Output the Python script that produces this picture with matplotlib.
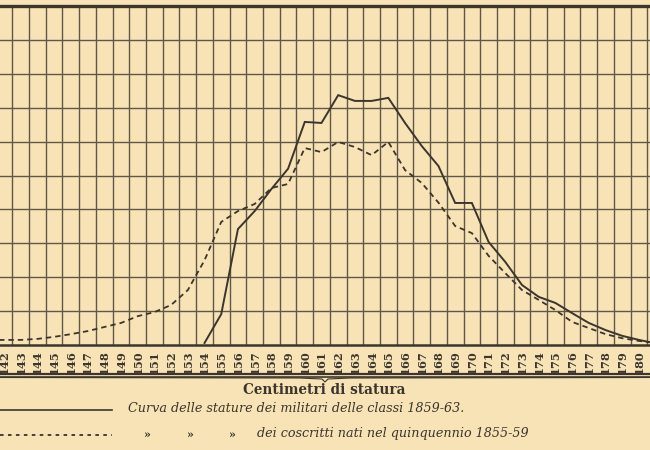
import numpy as np
import matplotlib
matplotlib.use("Agg")
import matplotlib.pyplot as plt
from matplotlib.lines import Line2D

# ---- data (units = grid rows) ----
# 141 and 181 are the edge points of the curves, partly cut off by the frame
heights = list(range(141, 182))
militari = [np.nan] * 13 + [
    0.06, 0.91, 3.42, 3.95, 4.60, 5.20, 6.58, 6.55, 7.37, 7.20, 7.20, 7.29,
    6.55, 5.87, 5.28, 4.19, 4.19, 3.04, 2.45, 1.77, 1.42, 1.24, 0.94, 0.65,
    0.44, 0.27, 0.15, 0.05]
coscritti = [
    0.14, 0.15, 0.15, 0.18, 0.24, 0.32, 0.41, 0.53, 0.65, 0.85, 0.97, 1.18,
    1.62, 2.50, 3.63, 3.95, 4.16, 4.63, 4.75, 5.81, 5.69, 5.99, 5.84, 5.60,
    5.99, 5.16, 4.78, 4.20, 3.51, 3.30, 2.63, 2.12, 1.62, 1.33, 1.03, 0.68,
    0.50, 0.32, 0.20, 0.12, 0.06]
tick_values = list(range(142, 181))
tick_labels = [str(h) for h in tick_values]
xlabel = "Centimetri di statura"
legend1 = "Curva delle stature dei militari delle classi 1859-63."
legend2 = "dei coscritti nati nel quinquennio 1855-59"

PAPER = "#F8E3B6"
INK = "#3B352D"
GRID = "#5F5848"

W, H = 650, 450
fig = plt.figure(figsize=(6.5, 4.5), dpi=100, facecolor=PAPER)
ax = fig.add_axes([0, (H - 345) / H, 1, (345 - 6) / H])
ax.set_facecolor(PAPER)
ax.set_xlim(141.76, 180.66)
ax.set_ylim(0, 10)

# grid
ax.set_xticks(np.arange(142.5, 181, 1), minor=True)
ax.set_yticks(np.arange(1, 10, 1))
ax.grid(which="minor", axis="x", color=GRID, linewidth=1.0)
ax.grid(which="major", axis="y", color=GRID, linewidth=1.0)
ax.set_axisbelow(True)
ax.tick_params(which="both", length=0)
ax.set_yticklabels([])
ax.set_xticks(tick_values)
ax.set_xticklabels(tick_labels, rotation=90, fontsize=8.2, fontweight="bold",
                   family="DejaVu Serif", color=INK, va="top")
ax.tick_params(axis="x", pad=4)
for s in ("left", "right"):
    ax.spines[s].set_visible(False)
ax.spines["top"].set_linewidth(2.4)
ax.spines["top"].set_color(INK)
ax.spines["bottom"].set_linewidth(1.8)
ax.spines["bottom"].set_color(INK)

# curves
ax.plot(heights, militari, color=INK, linewidth=1.4, solid_joinstyle="miter")
ax.plot(heights, coscritti, color=INK, linewidth=1.3, dashes=(3, 2.2))

def fy(py):
    return (H - py) / H

def fx(px):
    return px / W

# double rule under tick labels
for py, lw in ((374.0, 1.6), (377.0, 1.2)):
    fig.add_artist(Line2D([0, 1], [fy(py), fy(py)], color=INK, linewidth=lw,
                          transform=fig.transFigure))
# brace
bx = [fx(0), fx(300), fx(322), fx(325), fx(328), fx(350), fx(650)]
by = [fy(377.5), fy(378), fy(379), fy(382), fy(379), fy(378), fy(377.5)]
fig.add_artist(Line2D(bx, by, color=INK, linewidth=0.8, transform=fig.transFigure))

fig.text(fx(324), fy(390), xlabel, ha="center", va="center", fontsize=9.8,
         fontweight="bold", family="DejaVu Serif", color=INK)

# legend
fig.add_artist(Line2D([fx(0), fx(112)], [fy(410), fy(410)], color=INK,
                      linewidth=1.2, transform=fig.transFigure))
fig.text(fx(128), fy(409), legend1, ha="left", va="center", fontsize=9.2,
         style="italic", family="DejaVu Serif", color=INK)
fig.add_artist(Line2D([fx(0), fx(112)], [fy(435), fy(435)], color=INK,
                      linewidth=1.3, dashes=(2, 2.4), transform=fig.transFigure))
for px in (147, 190, 232):
    fig.text(fx(px), fy(435), "»", ha="center", va="center", fontsize=8,
             fontweight="bold", family="DejaVu Serif", color=INK)
fig.text(fx(257), fy(434), legend2, ha="left", va="center", fontsize=9.2,
         style="italic", family="DejaVu Serif", color=INK)

fig.savefig("out.png", dpi=100, facecolor=PAPER)
